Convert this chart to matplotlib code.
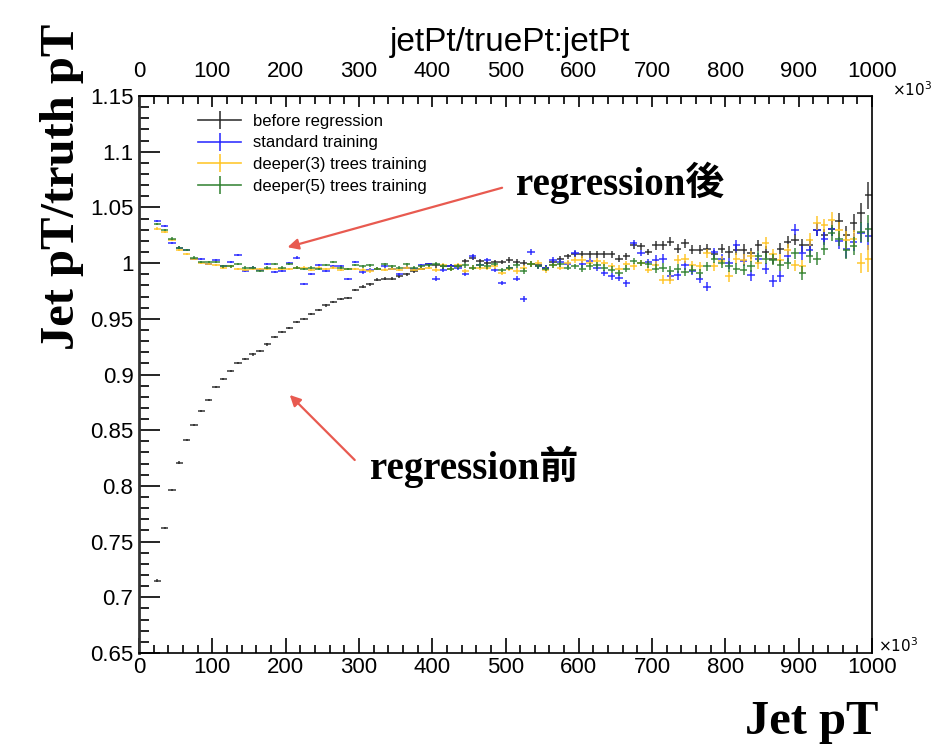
import numpy as np
import matplotlib
matplotlib.use('Agg')
import matplotlib.pyplot as plt
from matplotlib.lines import Line2D
from matplotlib.ticker import MultipleLocator, FuncFormatter, FixedLocator

# bin centres in GeV (10 GeV bins)
jet_pt = list(range(25, 1000, 10))

before_regression = [
    0.715, 0.762, 0.796, 0.821, 0.841, 0.855, 0.867, 0.877,
    0.889, 0.896, 0.903, 0.910, 0.914, 0.918, 0.921, 0.927, 0.934, 0.938,
    0.942, 0.947, 0.950, 0.954, 0.958, 0.962, 0.965, 0.968, 0.969, 0.976,
    0.979, 0.981, 0.985, 0.986, 0.986, 0.988, 0.990, 0.993, 0.995, 0.999,
    0.998, 0.997, 0.997, 0.997, 1.002, 1.005, 1.002, 1.000, 1.001, 1.001,
    1.003, 1.001, 1.000, 0.999, 0.998, 0.996, 1.001, 1.004, 1.006, 1.008,
    1.008, 1.008, 1.008, 1.008, 1.008, 1.004, 1.006, 1.016, 1.015, 1.010,
    1.016, 1.016, 1.019, 1.013, 1.018, 1.012, 1.012, 1.013, 1.008, 1.013,
    1.010, 1.012, 1.012, 1.009, 1.016, 1.010, 1.004, 1.013, 1.019, 1.021,
    1.016, 1.016, 1.030, 1.025, 1.031, 1.038, 1.025, 1.036, 1.045, 1.061,
]

standard_training = [
    1.038, 1.033, 1.018, 1.014, 1.012, 1.004, 1.004, 0.999,
    1.003, 0.997, 1.001, 1.007, 0.993, 0.996, 0.994, 0.999, 0.992, 0.993,
    1.000, 1.005, 0.981, 0.990, 0.998, 0.993, 0.997, 0.997, 0.986, 1.001,
    0.992, 0.994, 0.995, 0.997, 0.995, 0.990, 0.996, 0.995, 0.998, 0.999,
    0.986, 0.994, 0.997, 0.996, 0.990, 1.006, 0.998, 1.003, 0.994, 0.982,
    0.996, 0.986, 0.968, 1.010, 0.997, 0.996, 1.003, 1.001, 0.999, 1.009,
    0.999, 1.002, 0.996, 0.991, 0.988, 0.987, 0.982, 1.018, 1.009, 1.001,
    1.003, 1.004, 0.988, 0.989, 0.998, 0.993, 0.986, 0.979, 1.010, 1.004,
    1.000, 1.016, 1.002, 0.989, 1.004, 0.995, 0.984, 0.988, 1.006, 1.030,
    1.009, 1.012, 1.030, 1.022, 1.031, 1.020, 1.013, 1.019, 1.027, 1.024,
]

deeper3_training = [
    1.031, 1.028, 1.021, 1.012, 1.008, 1.004, 1.000, 0.999,
    0.998, 0.996, 0.997, 0.995, 0.994, 0.995, 0.995, 0.995, 0.995, 0.995,
    0.995, 0.996, 0.996, 0.994, 0.996, 0.995, 0.996, 0.994, 0.995, 0.995,
    0.994, 0.993, 0.995, 0.994, 0.995, 0.994, 0.996, 0.994, 0.995, 0.996,
    0.994, 0.998, 0.995, 0.998, 0.993, 0.996, 0.996, 0.996, 0.997, 0.991,
    0.995, 0.993, 0.996, 0.999, 1.000, 0.994, 0.998, 0.996, 1.000, 1.003,
    1.003, 1.000, 1.002, 1.000, 0.997, 0.995, 0.999, 0.997, 1.000, 0.994,
    0.998, 0.985, 0.985, 1.003, 1.004, 0.998, 0.997, 1.009, 0.997, 1.002,
    0.988, 1.004, 1.003, 1.006, 1.000, 1.018, 1.008, 1.003, 1.012, 0.998,
    0.997, 1.021, 1.036, 1.034, 1.039, 1.030, 1.021, 1.022, 1.000, 1.004,
]

deeper5_training = [
    1.035, 1.030, 1.022, 1.014, 1.012, 1.005, 1.001, 1.001,
    1.001, 0.997, 0.997, 0.999, 0.996, 0.996, 0.993, 0.996, 0.999, 0.996,
    0.999, 0.996, 0.995, 0.996, 0.995, 0.998, 1.001, 0.996, 0.995, 0.998,
    0.997, 0.998, 0.995, 0.999, 0.997, 0.996, 0.999, 0.996, 0.997, 0.998,
    0.999, 0.997, 0.995, 0.997, 0.998, 0.996, 0.998, 0.997, 0.999, 0.994,
    0.996, 0.998, 0.993, 0.999, 0.997, 0.995, 0.998, 0.999, 0.996, 0.997,
    0.995, 0.997, 0.998, 0.996, 0.994, 0.991, 0.995, 1.002, 1.000, 0.999,
    0.995, 0.996, 0.993, 0.995, 0.992, 0.994, 0.991, 0.997, 1.004, 1.000,
    0.997, 0.995, 0.994, 0.997, 1.006, 1.004, 1.003, 0.998, 1.000, 1.009,
    0.991, 1.006, 1.004, 1.013, 1.027, 1.022, 1.012, 1.015, 1.028, 1.031,
]

# statistical errors per bin (shared estimate)
stat_err = [
    0.001, 0.001, 0.001, 0.001, 0.001, 0.001, 0.001, 0.001,
    0.001, 0.001, 0.001, 0.001, 0.001, 0.001, 0.001, 0.001, 0.001, 0.001,
    0.001, 0.001, 0.001, 0.001, 0.001, 0.001, 0.001, 0.001, 0.001, 0.001,
    0.0015, 0.0015, 0.0015, 0.0015, 0.0015, 0.0015, 0.0015, 0.0015, 0.0015, 0.0015,
    0.002, 0.002, 0.002, 0.002, 0.002, 0.002, 0.002, 0.002, 0.002, 0.002,
    0.0025, 0.0025, 0.0025, 0.0025, 0.0025, 0.0025, 0.0025, 0.0025, 0.0025, 0.0025,
    0.003, 0.003, 0.003, 0.003, 0.003, 0.003, 0.003, 0.003, 0.003, 0.003,
    0.004, 0.004, 0.004, 0.004, 0.004, 0.004, 0.004, 0.004, 0.004, 0.004,
    0.005, 0.005, 0.005, 0.005, 0.005, 0.005, 0.005, 0.005, 0.005, 0.005,
    0.006, 0.006, 0.006, 0.006, 0.007, 0.007, 0.008, 0.008, 0.009, 0.012,
]

x_ticks = [0, 100, 200, 300, 400, 500, 600, 700, 800, 900, 1000]

series = [
    (before_regression, '#222222', 'before regression'),
    (standard_training, '#1f1fff', 'standard training'),
    (deeper3_training, '#ffc21a', 'deeper(3) trees training'),
    (deeper5_training, '#2a7d2a', 'deeper(5) trees training'),
]

sans = ['Liberation Sans', 'DejaVu Sans']
serif_cjk = ['Liberation Serif', 'Noto Sans CJK JP', 'DejaVu Serif']

fig = plt.figure(figsize=(9.41, 7.5), dpi=100)
ax = fig.add_axes([0.1477, 0.1293, 0.7790, 0.7427])

handles = []
for vals, color, label in series:
    ax.errorbar(jet_pt, vals, xerr=5, yerr=stat_err, fmt='none', ecolor=color,
                elinewidth=1.1, capsize=0, alpha=0.9)
    handles.append(Line2D([], [], color=color, lw=1.2, marker='|', markersize=13,
                          markeredgewidth=1.2, alpha=0.9, label=label))

ax.set_xlim(0, 1000)
ax.set_ylim(0.65, 1.15)

ax.xaxis.set_major_locator(FixedLocator(x_ticks))
ax.xaxis.set_minor_locator(MultipleLocator(20))
ax.yaxis.set_major_locator(MultipleLocator(0.05))
ax.yaxis.set_minor_locator(MultipleLocator(0.01))
ax.yaxis.set_major_formatter(FuncFormatter(lambda v, p: f'{v:g}'))
ax.xaxis.set_major_formatter(FuncFormatter(lambda v, p: f'{v:g}'))

ax.tick_params(axis='y', which='major', direction='in', length=15, width=1.2, pad=4, right=False)
ax.tick_params(axis='y', which='minor', direction='in', length=7, width=1.2, right=False)
ax.tick_params(axis='x', which='major', direction='in', length=11, width=1.2, pad=3)
ax.tick_params(axis='x', which='minor', direction='in', length=6, width=1.2)
for lab in ax.get_xticklabels() + ax.get_yticklabels():
    lab.set_family(sans)
    lab.set_fontsize(16)

for side in ['top', 'right', 'bottom']:
    ax.spines[side].set_linewidth(1.2)
ax.spines['left'].set_linewidth(2.0)
ax.spines['left'].set_color('#333333')

top = ax.secondary_xaxis('top')
top.xaxis.set_major_locator(FixedLocator(x_ticks))
top.xaxis.set_minor_locator(MultipleLocator(20))
top.xaxis.set_major_formatter(FuncFormatter(lambda v, p: f'{v:g}'))
top.tick_params(which='major', direction='in', length=8, width=1.2, pad=10)
top.tick_params(which='minor', direction='in', length=6, width=1.2)
for lab in top.get_xticklabels():
    lab.set_family(sans)
    lab.set_fontsize(16)

fig.text(912 / 941, 1 - 90 / 750, r'$\times10^{3}$', fontsize=11, ha='center', va='center')
fig.text(898 / 941, 1 - 646 / 750, r'$\times10^{3}$', fontsize=11, ha='center', va='center')

fig.text(510 / 941, 1 - 42 / 750, 'jetPt/truePt:jetPt', family=sans, fontsize=24,
         ha='center', va='center')

ax.legend(handles=handles, loc='upper left', bbox_to_anchor=(0.06, 0.995), frameon=False,
          prop={'family': sans, 'size': 12}, handlelength=2.6,
          labelspacing=0.4, handletextpad=0.7)

# annotations
arrow_color = '#e85a50'
ax.annotate('', xy=(199, 1.0136), xytext=(499, 1.0683),
            arrowprops=dict(arrowstyle='-|>', color=arrow_color, lw=1.6, mutation_scale=16))
ax.annotate('', xy=(203, 0.8834), xytext=(297, 0.8215),
            arrowprops=dict(arrowstyle='-|>', color=arrow_color, lw=1.6, mutation_scale=16))
ax.text(656, 1.072, 'regression後', family=serif_cjk, fontweight='bold',
        fontsize=28, ha='center', va='center')
ax.text(457, 0.817, 'regression前', family=serif_cjk, fontweight='bold', fontsize=28,
        ha='center', va='center')

fig.text(62 / 941, 1 - 350 / 750, 'Jet pT/truth pT', family=serif_cjk, fontweight='bold',
         fontsize=35, rotation=90, ha='center', va='bottom')
fig.text(812 / 941, 1 - 722 / 750, 'Jet pT', family=serif_cjk, fontweight='bold',
         fontsize=35, ha='center', va='center')

fig.savefig('out.png', dpi=100)
